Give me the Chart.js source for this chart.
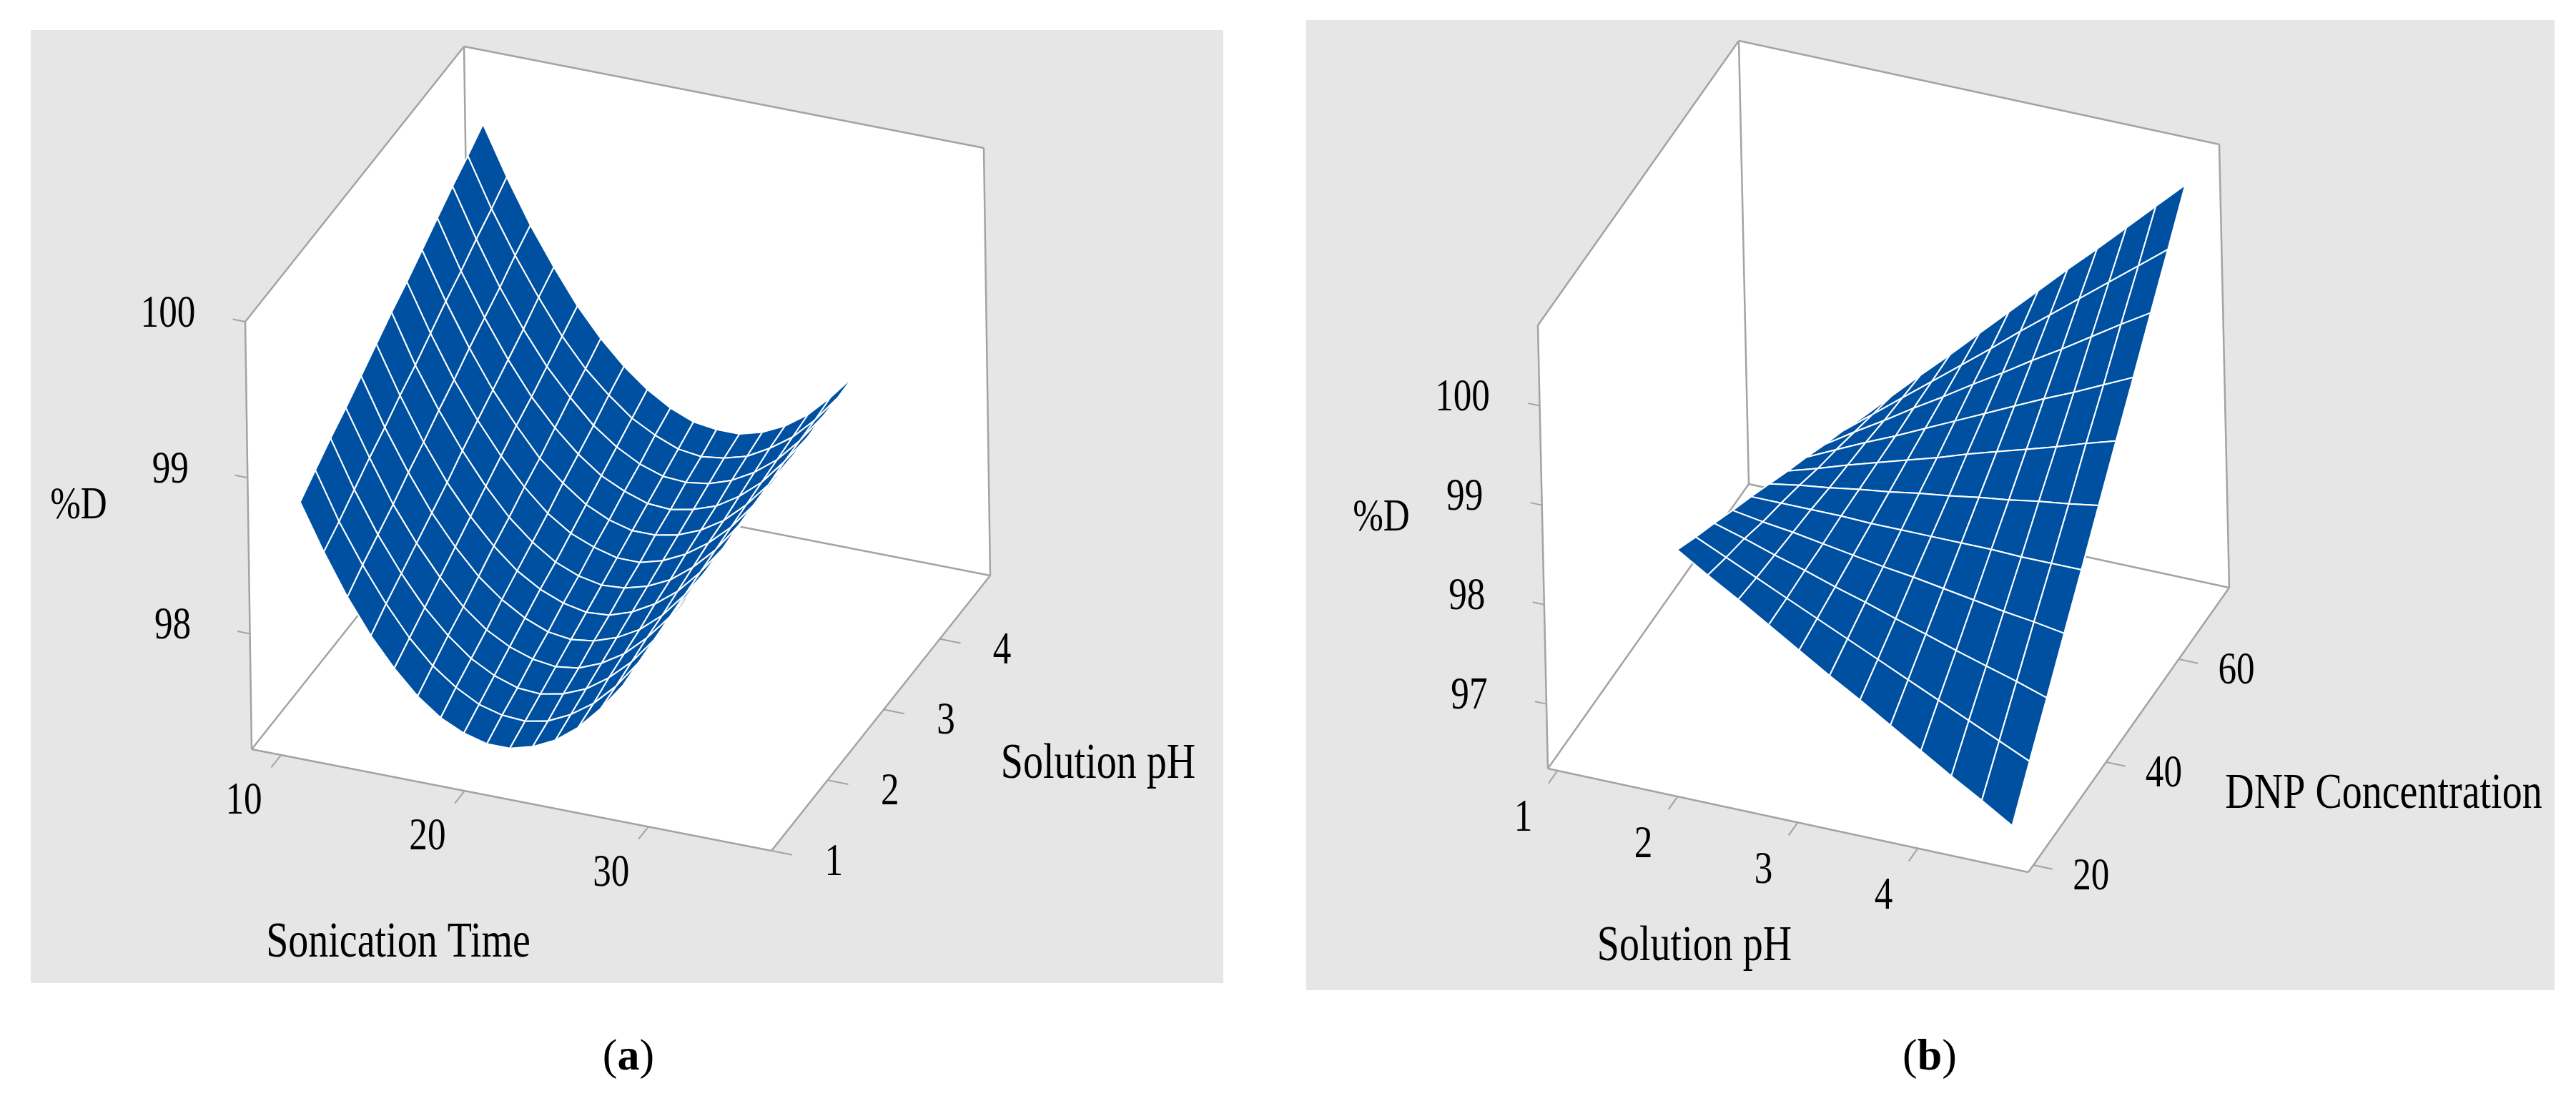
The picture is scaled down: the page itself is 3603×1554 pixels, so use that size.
<!DOCTYPE html>
<html>
<head>
<meta charset="utf-8">
<script src="https://cdn.jsdelivr.net/npm/chart.js@4/dist/chart.umd.min.js"></script>
<style>
  body { margin: 0; background: #fff; width: 3603px; height: 1554px; position: relative; overflow: hidden; }
  .panel { position: absolute; background: #e6e6e6; }
  canvas { position: absolute; top: 0; }
</style>
</head>
<body>
<div class="panel" style="left:43px;top:42px;width:1668px;height:1333px"></div>
<div class="panel" style="left:1827px;top:28px;width:1746px;height:1357px"></div>
<canvas id="chartA" width="1801" height="1554" style="left:0"></canvas>
<canvas id="chartB" width="1802" height="1554" style="left:1801px"></canvas>
<script>
// (a) %D vs sonication time and solution pH
var sonicationTime = [10, 11.25, 12.5, 13.75, 15, 16.25, 17.5, 18.75, 20, 21.25, 22.5, 23.75, 25, 26.25, 27.5, 28.75, 30];
var solutionPhA = [1.4, 1.675, 1.95, 2.225, 2.5, 2.775, 3.05, 3.325, 3.6, 3.875, 4.15, 4.425, 4.7];
var removalA = [
    [98.70, 98.41, 98.15, 97.93, 97.75, 97.60, 97.49, 97.42, 97.38, 97.38, 97.42, 97.49, 97.60, 97.75, 97.93, 98.15, 98.40],
    [98.78, 98.48, 98.23, 98.01, 97.82, 97.67, 97.56, 97.48, 97.44, 97.43, 97.46, 97.53, 97.63, 97.77, 97.95, 98.16, 98.41],
    [98.86, 98.56, 98.30, 98.08, 97.89, 97.74, 97.62, 97.54, 97.49, 97.48, 97.51, 97.57, 97.67, 97.80, 97.97, 98.17, 98.41],
    [98.93, 98.64, 98.37, 98.15, 97.96, 97.80, 97.68, 97.60, 97.55, 97.53, 97.55, 97.61, 97.70, 97.83, 97.99, 98.19, 98.42],
    [99.01, 98.71, 98.45, 98.22, 98.03, 97.87, 97.75, 97.66, 97.60, 97.58, 97.60, 97.65, 97.73, 97.85, 98.01, 98.20, 98.42],
    [99.09, 98.79, 98.52, 98.29, 98.10, 97.94, 97.81, 97.72, 97.66, 97.63, 97.64, 97.69, 97.77, 97.88, 98.03, 98.21, 98.43],
    [99.17, 98.86, 98.60, 98.37, 98.17, 98.00, 97.87, 97.77, 97.71, 97.68, 97.69, 97.73, 97.80, 97.91, 98.05, 98.23, 98.44],
    [99.24, 98.94, 98.67, 98.44, 98.24, 98.07, 97.93, 97.83, 97.77, 97.73, 97.73, 97.77, 97.84, 97.94, 98.07, 98.24, 98.44],
    [99.32, 99.02, 98.75, 98.51, 98.31, 98.13, 98.00, 97.89, 97.82, 97.78, 97.78, 97.81, 97.87, 97.96, 98.09, 98.25, 98.45],
    [99.40, 99.09, 98.82, 98.58, 98.37, 98.20, 98.06, 97.95, 97.88, 97.83, 97.82, 97.85, 97.90, 97.99, 98.11, 98.27, 98.45],
    [99.48, 99.17, 98.89, 98.65, 98.44, 98.27, 98.12, 98.01, 97.93, 97.88, 97.87, 97.89, 97.94, 98.02, 98.13, 98.28, 98.46],
    [99.55, 99.24, 98.97, 98.73, 98.51, 98.33, 98.19, 98.07, 97.99, 97.93, 97.91, 97.93, 97.97, 98.05, 98.15, 98.29, 98.46],
    [99.63, 99.32, 99.04, 98.80, 98.58, 98.40, 98.25, 98.13, 98.04, 97.98, 97.96, 97.96, 98.00, 98.07, 98.17, 98.31, 98.47]
];
var timeTicks = [10, 20, 30];
var phTicksA = [1, 2, 3, 4];
var removalTicksA = [98, 99, 100];

// (b) %D vs solution pH and DNP concentration
var solutionPhB = [2.0, 2.25, 2.5, 2.75, 3.0, 3.25, 3.5, 3.75, 4.0, 4.25, 4.5, 4.75];
var dnpConc = [20, 25, 30, 35, 40, 45, 50, 55, 60, 65, 70];
var removalB = [
    [98.76, 98.57, 98.39, 98.20, 98.01, 97.82, 97.64, 97.45, 97.26, 97.07, 96.89, 96.70],
    [98.63, 98.49, 98.35, 98.21, 98.07, 97.93, 97.79, 97.65, 97.51, 97.37, 97.23, 97.09],
    [98.51, 98.42, 98.32, 98.23, 98.13, 98.04, 97.94, 97.85, 97.75, 97.66, 97.57, 97.47],
    [98.38, 98.33, 98.29, 98.24, 98.19, 98.14, 98.10, 98.05, 98.00, 97.95, 97.91, 97.86],
    [98.26, 98.26, 98.26, 98.26, 98.25, 98.25, 98.25, 98.25, 98.25, 98.24, 98.24, 98.24],
    [98.13, 98.18, 98.22, 98.27, 98.31, 98.36, 98.40, 98.45, 98.49, 98.54, 98.58, 98.63],
    [98.00, 98.09, 98.19, 98.28, 98.37, 98.46, 98.56, 98.65, 98.74, 98.83, 98.93, 99.02],
    [97.88, 98.02, 98.16, 98.29, 98.43, 98.57, 98.71, 98.85, 98.99, 99.12, 99.26, 99.40],
    [97.75, 97.94, 98.12, 98.31, 98.49, 98.68, 98.86, 99.05, 99.23, 99.42, 99.61, 99.79],
    [97.63, 97.86, 98.09, 98.32, 98.55, 98.78, 99.02, 99.25, 99.48, 99.71, 99.94, 100.17],
    [97.50, 97.78, 98.06, 98.33, 98.61, 98.89, 99.17, 99.45, 99.72, 100.00, 100.28, 100.56]
];
var phTicksB = [1, 2, 3, 4];
var dnpTicks = [20, 40, 60];
var removalTicksB = [97, 98, 99, 100];

var BLUE = '#0050a2';
var EDGE = '#a3a3a3';
var FONT = '"Liberation Serif", "Times New Roman", serif';

function makePanel(canvasId, left, P) {
    function proj(u, v, w) {
        var a = (u - P.xr[0]) / (P.xr[1] - P.xr[0]);
        var b = (v - P.yr[0]) / (P.yr[1] - P.yr[0]);
        var c = (w - P.zr[0]) / (P.zr[1] - P.zr[0]);
        return {
            x: P.o[0] + P.ex[0] * a + P.ey[0] * b + P.ez[0] * c,
            y: P.o[1] + P.ex[1] * a + P.ey[1] * b + P.ez[1] * c,
            depth: b - 0.25 * a - 0.3 * c
        };
    }
    var x0 = P.xr[0], x1 = P.xr[1], y0 = P.yr[0], y1 = P.yr[1], z0 = P.zr[0], z1 = P.zr[1];
    var layers = [];   // in paint order

    function poly(pts, fillColor) {
        return { data: pts.concat([pts[0]]), fill: 'shape', backgroundColor: fillColor, borderWidth: 0, borderColor: 'rgba(0,0,0,0)' };
    }
    function seg(p, q, color, w) {
        return { data: [p, q], fill: false, borderColor: color, borderWidth: w };
    }

    // white walls
    layers.push(poly([proj(x0, y0, z0), proj(x1, y0, z0), proj(x1, y1, z0), proj(x0, y1, z0)], '#fff'));
    layers.push(poly([proj(x0, y1, z0), proj(x1, y1, z0), proj(x1, y1, z1), proj(x0, y1, z1)], '#fff'));
    layers.push(poly([proj(x0, y0, z0), proj(x0, y1, z0), proj(x0, y1, z1), proj(x0, y0, z1)], '#fff'));

    // box edges
    [[[x0, y0, z0], [x1, y0, z0]], [[x1, y0, z0], [x1, y1, z0]], [[x0, y0, z0], [x0, y1, z0]],
     [[x0, y1, z0], [x1, y1, z0]], [[x0, y0, z0], [x0, y0, z1]], [[x0, y1, z0], [x0, y1, z1]],
     [[x1, y1, z0], [x1, y1, z1]], [[x0, y0, z1], [x0, y1, z1]], [[x0, y1, z1], [x1, y1, z1]]
    ].forEach(function (e) {
        layers.push(seg(proj.apply(null, e[0]), proj.apply(null, e[1]), EDGE, 2.5));
    });

    // tick marks
    var dy = (y1 - y0) * 0.045, dx = (x1 - x0) * 0.04;
    P.xTicks.forEach(function (t) { layers.push(seg(proj(t, y0, z0), proj(t, y0 - dy, z0), EDGE, 2)); });
    P.yTicks.forEach(function (t) { layers.push(seg(proj(x1, t, z0), proj(x1 + dx, t, z0), EDGE, 2)); });
    P.zTicks.forEach(function (t) { layers.push(seg(proj(x0, y0, t), proj(x0 - dx * 0.6, y0, t), EDGE, 2)); });

    // surface quads, far ones first
    var quads = [];
    for (var j = 0; j < P.ys.length - 1; j++) {
        for (var i = 0; i < P.xs.length - 1; i++) {
            var q = [proj(P.xs[i], P.ys[j], P.zg[j][i]), proj(P.xs[i + 1], P.ys[j], P.zg[j][i + 1]),
                     proj(P.xs[i + 1], P.ys[j + 1], P.zg[j + 1][i + 1]), proj(P.xs[i], P.ys[j + 1], P.zg[j + 1][i])];
            var d = (q[0].depth + q[1].depth + q[2].depth + q[3].depth) / 4;
            quads.push({ pts: q, depth: d });
        }
    }
    quads.sort(function (a, b) { return b.depth - a.depth; });
    quads.forEach(function (q) {
        layers.push({ data: q.pts.concat([q.pts[0]]), fill: 'shape', backgroundColor: BLUE, borderColor: '#fff', borderWidth: 2 });
    });

    // Chart.js paints the last dataset first
    var datasets = layers.reverse().map(function (ds) {
        ds.type = 'line';
        ds.pointRadius = 0;
        ds.tension = 0;
        ds.borderJoinStyle = 'round';
        return ds;
    });

    var textPlugin = {
        id: 'labels3d',
        afterDraw: function (chart) {
            var ctx = chart.ctx, sx = chart.scales.x, sy = chart.scales.y;
            function put(txt, p, offx, offy, size) {
                var px = sx.getPixelForValue(p.x) + offx, py = sy.getPixelForValue(p.y) + offy;
                ctx.save();
                ctx.translate(px, py);
                ctx.scale(0.8, 1);   // the original lettering is narrow
                ctx.font = size + 'px ' + FONT;
                ctx.fillStyle = '#000';
                ctx.textAlign = 'center';
                ctx.textBaseline = 'middle';
                ctx.fillText(txt, 0, 0);
                ctx.restore();
            }
            ctx.save();
            P.xTicks.forEach(function (t) { put(String(t), proj(t, y0 - (y1 - y0) * 0.17, z0), 0, 0, 64); });
            P.yTicks.forEach(function (t) { put(String(t), proj(x1 + (x1 - x0) * 0.12, t, z0), 0, 0, 64); });
            P.zTicks.forEach(function (t) { put(String(t), proj(x0, y0, t), -108, -10, 64); });
            put('%D', { x: P.zTitle[0], y: P.zTitle[1] }, 0, 0, 64);
            put(P.xTitle, { x: P.xTitlePos[0], y: P.xTitlePos[1] }, 0, 0, 70);
            put(P.yTitle, { x: P.yTitlePos[0], y: P.yTitlePos[1] }, 0, 0, 70);
            // caption "(a)" with bold letter
            ctx.textAlign = 'left';
            ctx.textBaseline = 'middle';
            ctx.fillStyle = '#000';
            var cx = sx.getPixelForValue(P.capPos[0]), cy = sy.getPixelForValue(P.capPos[1]);
            ctx.font = '62px ' + FONT;
            var wp = ctx.measureText('(').width;
            ctx.font = 'bold 62px ' + FONT;
            var wl = ctx.measureText(P.caption).width;
            ctx.font = '62px ' + FONT;
            var wr = ctx.measureText(')').width;
            var sxp = cx - (wp + wl + wr) / 2;
            ctx.fillText('(', sxp, cy);
            ctx.font = 'bold 62px ' + FONT;
            ctx.fillText(P.caption, sxp + wp, cy);
            ctx.font = '62px ' + FONT;
            ctx.fillText(')', sxp + wp + wl, cy);
            ctx.restore();
        }
    };

    var canvas = document.getElementById(canvasId);
    return new Chart(canvas, {
        type: 'scatter',
        data: { datasets: datasets },
        options: {
            responsive: false,
            devicePixelRatio: 1,
            animation: false,
            layout: { padding: 0 },
            plugins: { legend: { display: false }, tooltip: { enabled: false } },
            scales: {
                x: { type: 'linear', display: false, min: left, max: left + canvas.width },
                y: { type: 'linear', display: false, min: 0, max: canvas.height, reverse: true }
            }
        },
        plugins: [textPlugin]
    });
}

makePanel('chartA', 0, {
    o: [352, 1048], ex: [727, 142], ey: [306, -385], ez: [-9, -598],
    xr: [8.4, 36.7], yr: [1.0, 4.9], zr: [97.26, 100],
    xs: sonicationTime, ys: solutionPhA, zg: removalA,
    xTicks: timeTicks, yTicks: phTicksA, zTicks: removalTicksA,
    xTitle: 'Sonication Time', xTitlePos: [557, 1320],
    yTitle: 'Solution pH', yTitlePos: [1536, 1070],
    zTitle: [110, 708], caption: 'a', capPos: [879, 1480]
});

makePanel('chartB', 1801, {
    o: [2165, 1075], ex: [672, 145], ey: [281, -398], ez: [-14, -620],
    xr: [0.92, 4.92], yr: [18.6, 73.9], zr: [96.35, 100.81],
    xs: solutionPhB, ys: dnpConc, zg: removalB,
    xTicks: phTicksB, yTicks: dnpTicks, zTicks: removalTicksB,
    xTitle: 'Solution pH', xTitlePos: [2370, 1325],
    yTitle: 'DNP Concentration', yTitlePos: [3334, 1112],
    zTitle: [1932, 725], caption: 'b', capPos: [2699, 1480]
});
</script>
</body>
</html>
